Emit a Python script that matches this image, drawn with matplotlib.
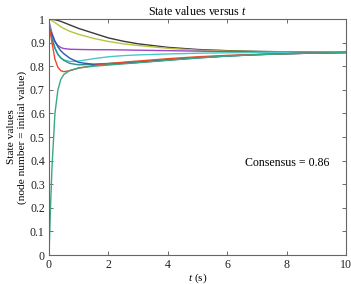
import numpy as np
import matplotlib.pyplot as plt

# sample times (s)
t = [0, 0.05, 0.1, 0.2, 0.3, 0.4, 0.5, 0.7, 1.0, 1.5, 2, 2.5, 3, 4, 5, 6, 7, 8, 9, 10]

# state of each node
black = [1.0, 1.0, 0.999, 0.997, 0.994, 0.99, 0.985, 0.975, 0.96, 0.94, 0.92, 0.906, 0.895, 0.88, 0.871, 0.866, 0.863, 0.861, 0.86, 0.86]
olive = [1.0, 0.997, 0.993, 0.985, 0.976, 0.967, 0.96, 0.948, 0.935, 0.918, 0.905, 0.895, 0.888, 0.876, 0.868, 0.864, 0.862, 0.861, 0.86, 0.86]
purple = [0.99, 0.965, 0.94, 0.905, 0.888, 0.879, 0.875, 0.872, 0.871, 0.87, 0.87, 0.869, 0.868, 0.866, 0.864, 0.862, 0.861, 0.86, 0.86, 0.86]
cyan = [0.98, 0.955, 0.93, 0.88, 0.85, 0.835, 0.827, 0.82, 0.822, 0.832, 0.84, 0.845, 0.848, 0.852, 0.855, 0.857, 0.858, 0.859, 0.86, 0.86]
teal = [0.97, 0.945, 0.915, 0.875, 0.85, 0.835, 0.825, 0.812, 0.806, 0.808, 0.812, 0.815, 0.819, 0.828, 0.837, 0.844, 0.849, 0.853, 0.856, 0.858]
blue = [0.96, 0.948, 0.935, 0.905, 0.882, 0.865, 0.853, 0.834, 0.816, 0.808, 0.809, 0.812, 0.816, 0.826, 0.835, 0.843, 0.849, 0.853, 0.856, 0.858]
red = [0.97, 0.94, 0.9, 0.83, 0.795, 0.781, 0.777, 0.781, 0.792, 0.803, 0.811, 0.817, 0.822, 0.832, 0.84, 0.846, 0.85, 0.853, 0.856, 0.858]
green = [0.0, 0.2, 0.37, 0.6, 0.7, 0.745, 0.765, 0.782, 0.793, 0.8, 0.805, 0.81, 0.815, 0.825, 0.835, 0.843, 0.849, 0.853, 0.856, 0.858]

series = [black, olive, purple, cyan, teal, blue, red, green]
colors = ['#3a3a3a', '#b8c43c', '#a044c8', '#48c8c8', '#2a9090', '#2a5aa8', '#e84a2c', '#3aa882']

consensus = 0.86
x_ticks = [0, 2, 4, 6, 8, 10]
y_ticks = [0, 0.1, 0.2, 0.3, 0.4, 0.5, 0.6, 0.7, 0.8, 0.9, 1]

plt.rcParams['font.family'] = ['Liberation Serif', 'DejaVu Serif']
plt.rcParams['mathtext.fontset'] = 'custom'
plt.rcParams['mathtext.it'] = 'Liberation Serif:italic'
plt.rcParams['mathtext.rm'] = 'Liberation Serif'

fs = 8.6
fig = plt.figure(figsize=(3.51, 2.84), dpi=100)
ax = fig.add_axes([0.1396, 0.102, 0.8462, 0.831])

for vals, c in zip(series, colors):
    ax.plot(t, vals, color=c, linewidth=1.0)

ax.set_xlim(0, 10)
ax.set_ylim(0, 1)
ax.set_xticks(x_ticks)
ax.set_xticklabels([str(v) for v in x_ticks])
ax.set_yticks(y_ticks)
ax.set_yticklabels(['0'] + [f'{v:.1f}' for v in y_ticks[1:-1]] + ['1'])
ax.tick_params(direction='in', top=True, right=True, length=3, width=0.6,
               labelsize=fs, colors='#555555', labelcolor='#222222', pad=3)
for sp in ax.spines.values():
    sp.set_color('#666666')
    sp.set_linewidth(0.8)

ax.text(6.6, 0.39, f'Consensus = {consensus}', fontsize=fs, va='center', ha='left')
ax.set_title('State values versus $t$', fontsize=fs, pad=3)
ax.set_xlabel('$t$ (s)', fontsize=8.2, labelpad=0)
ax.set_ylabel('State values\n(node number = initial value)', fontsize=8.2, labelpad=2, linespacing=1.25)

fig.savefig('out.png', dpi=100)
